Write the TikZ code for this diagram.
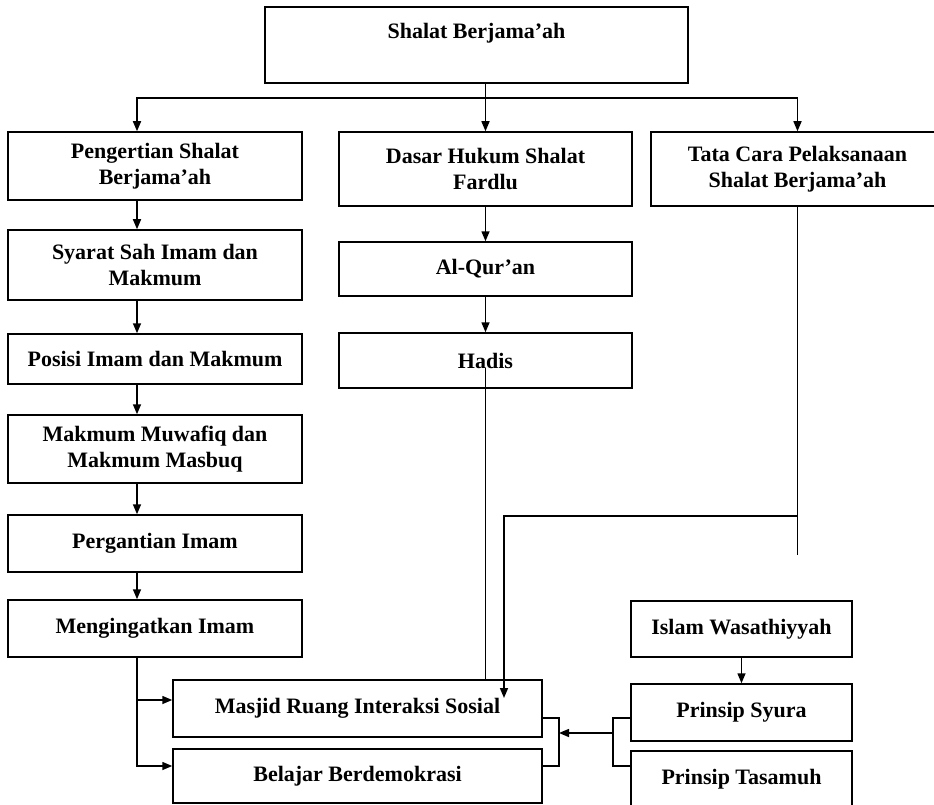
\documentclass[tikz,border=0pt]{standalone}
\usepackage{fontspec}
\setmainfont{Liberation Serif}
\usetikzlibrary{arrows.meta}

\begin{document}
\begin{tikzpicture}[x=1pt,y=-1pt,line width=1.5pt,
    >={Triangle[length=10pt,width=8pt]},
    box/.style={draw,rectangle,align=center,inner sep=0pt,
      font=\bfseries\fontsize{22}{26}\selectfont}]
  \useasboundingbox (0,0) rectangle (934,805);

  \node[box,minimum width=423,minimum height=76,text depth=28pt] (top) at (476.5,45) {Shalat Berjama’ah};

  \begin{scope}[every node/.style={box,minimum width=294}]
    \node[minimum height=68] (peng) at (155,166) {Pengertian Shalat\\Berjama’ah};
    \node[minimum height=70] (syarat) at (155,265) {Syarat Sah Imam dan\\Makmum};
    \node[minimum height=50] (posisi) at (155,359) {Posisi Imam dan Makmum};
    \node[minimum height=68] (muwafiq) at (155,449) {Makmum Muwafiq dan\\Makmum Masbuq};
    \node[minimum height=57] (ganti) at (155,543.5) {Pergantian Imam};
    \node[minimum height=57] (ingat) at (155,628.5) {Mengingatkan Imam};
  \end{scope}

  \begin{scope}[every node/.style={box,minimum width=293}]
    \node[minimum height=74] (dasar) at (485.5,169) {Dasar Hukum Shalat\\Fardlu};
    \node[minimum height=54] (quran) at (485.5,269) {Al-Qur’an};
    \node[minimum height=55] (hadis) at (485.5,360.5) {Hadis};
    \node[minimum height=74] (tata) at (797.5,169) {Tata Cara Pelaksanaan\\Shalat Berjama’ah};
  \end{scope}

  \begin{scope}[every node/.style={box,minimum width=369}]
    \node[minimum height=57] (masjid) at (357.5,708.5) {Masjid Ruang Interaksi Sosial};
    \node[minimum height=54] (belajar) at (357.5,776) {Belajar Berdemokrasi};
  \end{scope}

  \begin{scope}[every node/.style={box,minimum width=221,minimum height=57}]
    \node[minimum height=56] (islam) at (741.5,629) {Islam Wasathiyyah};
    \node (syura) at (741.5,712.5) {Prinsip Syura};
    \node (tasamuh) at (741.5,779.5) {Prinsip Tasamuh};
  \end{scope}

  \coordinate (bus) at (0,98);
  \coordinate (lx) at (137,0);
  \coordinate (tail) at (798,555);
  \coordinate (elbow) at (0,516);
  \coordinate (hit) at (504,698);
  \coordinate (jr) at (613,733);
  \coordinate (jl) at (559,733);
  \coordinate (m-in) at ([yshift=8.5pt]masjid.west);

  % top level
  \draw[->] (top.south -| dasar) -- (dasar);
  \draw[<->] (peng.north -| lx) |- (bus -| tata) -- (tata);

  % left column
  \foreach \a/\b in {peng/syarat,syarat/posisi,posisi/muwafiq,muwafiq/ganti,ganti/ingat}
    \draw[->] (\a.south -| lx) -- (\b.north -| lx);
  \draw[->] (ingat.south -| lx) |- ([yshift=10pt]belajar.west);
  \draw[->] (lx |- m-in) -- (m-in);

  % middle column
  \draw[->] (dasar) -- (quran);
  \draw[->] (quran) -- (hadis);
  \draw ([yshift=-7pt]hadis.center) -- (masjid.north -| hadis);

  % right column
  \draw (tata.south) -- (tata.south |- tail);
  \draw[->] (tata.south |- elbow) -| (hit);
  \draw[->] (islam) -- (syura);
  \draw ([yshift=-5.5pt]syura.west) -| (jr) |- ([yshift=13.5pt]tasamuh.west);
  \draw[->] (jr) -- (jl);
  \draw ([yshift=-9.5pt]masjid.east) -| (jl) |- ([yshift=10pt]belajar.east);
\end{tikzpicture}
\end{document}
